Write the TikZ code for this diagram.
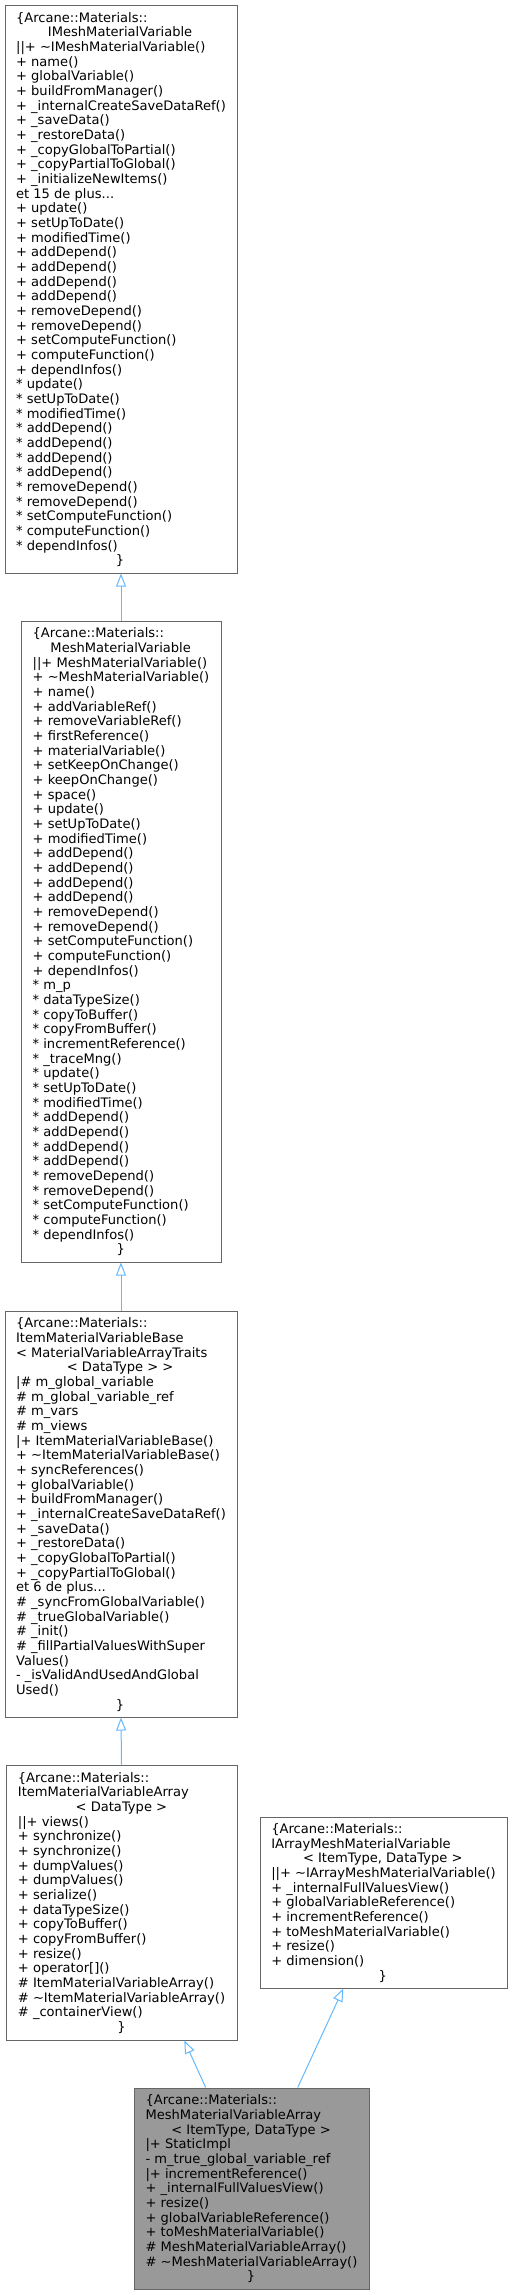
\documentclass[tikz,border=0pt]{standalone}
\usepackage{fontspec}
\setmainfont{DejaVu Sans}
\usetikzlibrary{arrows.meta}
\definecolor{edgeblue}{HTML}{63B8FF}
\definecolor{boxborder}{HTML}{666666}
\definecolor{boxgray}{HTML}{999999}
\newcommand{\Sx}{\vrule width0pt height8.8pt depth2.2pt}
\newcommand{\Ll}[1]{\hbox{\Sx#1}}
\newcommand{\Cl}[1]{\hbox to\hsize{\hss\Sx#1\hss}}
\newcommand{\Blk}[2]{\vbox{\hsize=#1\baselineskip=11pt\lineskiplimit=-\maxdimen\lineskip=0pt #2}}
\newcommand{\tl}{\textasciitilde}
\tikzset{
  cls/.style={draw=boxborder, line width=0.75pt, fill=white, inner sep=0pt,
    font=\fontsize{9.8pt}{11pt}\selectfont, text=black},
  clsmain/.style={cls, fill=boxgray},
  inh/.style={draw=edgeblue, line width=0.75pt, -{Triangle[open, length=9.75pt, width=7.5pt]}}
}
\begin{document}
\begin{tikzpicture}[x=0.75pt, y=-0.75pt]
\useasboundingbox (0,0) rectangle (513,2295);

\node[cls, minimum width=174pt, minimum height=426pt] (b1) at (121,289) {\Blk{156pt}{%
\Ll{\{Arcane::Materials::}
\Cl{IMeshMaterialVariable}
\Ll{||+ \tl IMeshMaterialVariable()}
\Ll{+ name()}
\Ll{+ globalVariable()}
\Ll{+ buildFromManager()}
\Ll{+ \_internalCreateSaveDataRef()}
\Ll{+ \_saveData()}
\Ll{+ \_restoreData()}
\Ll{+ \_copyGlobalToPartial()}
\Ll{+ \_copyPartialToGlobal()}
\Ll{+ \_initializeNewItems()}
\Ll{et 15 de plus...}
\Ll{+ update()}
\Ll{+ setUpToDate()}
\Ll{+ modifiedTime()}
\Ll{+ addDepend()}
\Ll{+ addDepend()}
\Ll{+ addDepend()}
\Ll{+ addDepend()}
\Ll{+ removeDepend()}
\Ll{+ removeDepend()}
\Ll{+ setComputeFunction()}
\Ll{+ computeFunction()}
\Ll{+ dependInfos()}
\Ll{* update()}
\Ll{* setUpToDate()}
\Ll{* modifiedTime()}
\Ll{* addDepend()}
\Ll{* addDepend()}
\Ll{* addDepend()}
\Ll{* addDepend()}
\Ll{* removeDepend()}
\Ll{* removeDepend()}
\Ll{* setComputeFunction()}
\Ll{* computeFunction()}
\Ll{* dependInfos()}
\Cl{\}}}};

\node[cls, minimum width=150pt, minimum height=480.75pt] (b2) at (121,941.5) {\Blk{132pt}{%
\Ll{\{Arcane::Materials::}
\Cl{MeshMaterialVariable}
\Ll{||+ MeshMaterialVariable()}
\Ll{+ \tl MeshMaterialVariable()}
\Ll{+ name()}
\Ll{+ addVariableRef()}
\Ll{+ removeVariableRef()}
\Ll{+ firstReference()}
\Ll{+ materialVariable()}
\Ll{+ setKeepOnChange()}
\Ll{+ keepOnChange()}
\Ll{+ space()}
\Ll{+ update()}
\Ll{+ setUpToDate()}
\Ll{+ modifiedTime()}
\Ll{+ addDepend()}
\Ll{+ addDepend()}
\Ll{+ addDepend()}
\Ll{+ addDepend()}
\Ll{+ removeDepend()}
\Ll{+ removeDepend()}
\Ll{+ setComputeFunction()}
\Ll{+ computeFunction()}
\Ll{+ dependInfos()}
\Ll{* m\_p}
\Ll{* dataTypeSize()}
\Ll{* copyToBuffer()}
\Ll{* copyFromBuffer()}
\Ll{* incrementReference()}
\Ll{* \_traceMng()}
\Ll{* update()}
\Ll{* setUpToDate()}
\Ll{* modifiedTime()}
\Ll{* addDepend()}
\Ll{* addDepend()}
\Ll{* addDepend()}
\Ll{* addDepend()}
\Ll{* removeDepend()}
\Ll{* removeDepend()}
\Ll{* setComputeFunction()}
\Ll{* computeFunction()}
\Ll{* dependInfos()}
\Cl{\}}}};

\node[cls, minimum width=174pt, minimum height=304.5pt] (b3) at (121,1514) {\Blk{156pt}{%
\Ll{\{Arcane::Materials::}
\Ll{ItemMaterialVariableBase}
\Ll{< MaterialVariableArrayTraits}
\Cl{< DataType > >}
\Ll{|\# m\_global\_variable}
\Ll{\# m\_global\_variable\_ref}
\Ll{\# m\_vars}
\Ll{\# m\_views}
\Ll{|+ ItemMaterialVariableBase()}
\Ll{+ \tl ItemMaterialVariableBase()}
\Ll{+ syncReferences()}
\Ll{+ globalVariable()}
\Ll{+ buildFromManager()}
\Ll{+ \_internalCreateSaveDataRef()}
\Ll{+ \_saveData()}
\Ll{+ \_restoreData()}
\Ll{+ \_copyGlobalToPartial()}
\Ll{+ \_copyPartialToGlobal()}
\Ll{et 6 de plus...}
\Ll{\# \_syncFromGlobalVariable()}
\Ll{\# \_trueGlobalVariable()}
\Ll{\# \_init()}
\Ll{\# \_fillPartialValuesWithSuper}
\Ll{Values()}
\Ll{- \_isValidAndUsedAndGlobal}
\Ll{Used()}
\Cl{\}}}};

\node[cls, minimum width=173.25pt, minimum height=206.25pt] (b4) at (121.5,1902.5) {\Blk{155.25pt}{%
\Ll{\{Arcane::Materials::}
\Ll{ItemMaterialVariableArray}
\Cl{< DataType >}
\Ll{||+ views()}
\Ll{+ synchronize()}
\Ll{+ synchronize()}
\Ll{+ dumpValues()}
\Ll{+ dumpValues()}
\Ll{+ serialize()}
\Ll{+ dataTypeSize()}
\Ll{+ copyToBuffer()}
\Ll{+ copyFromBuffer()}
\Ll{+ resize()}
\Ll{+ operator[]()}
\Ll{\# ItemMaterialVariableArray()}
\Ll{\# \tl ItemMaterialVariableArray()}
\Ll{\# \_containerView()}
\Cl{\}}}};

\node[cls, minimum width=185.25pt, minimum height=128.25pt] (b5) at (383.5,1902.5) {\Blk{167.25pt}{%
\Ll{\{Arcane::Materials::}
\Ll{IArrayMeshMaterialVariable}
\Cl{< ItemType, DataType >}
\Ll{||+ \tl IArrayMeshMaterialVariable()}
\Ll{+ \_internalFullValuesView()}
\Ll{+ globalVariableReference()}
\Ll{+ incrementReference()}
\Ll{+ toMeshMaterialVariable()}
\Ll{+ resize()}
\Ll{+ dimension()}
\Cl{\}}}};

\node[clsmain, minimum width=176.25pt, minimum height=150.75pt] (b6) at (251.5,2188.5) {\Blk{158.25pt}{%
\Ll{\{Arcane::Materials::}
\Ll{MeshMaterialVariableArray}
\Cl{< ItemType, DataType >}
\Ll{|+ StaticImpl}
\Ll{- m\_true\_global\_variable\_ref}
\Ll{|+ incrementReference()}
\Ll{+ \_internalFullValuesView()}
\Ll{+ resize()}
\Ll{+ globalVariableReference()}
\Ll{+ toMeshMaterialVariable()}
\Ll{\# MeshMaterialVariableArray()}
\Ll{\# \tl MeshMaterialVariableArray()}
\Cl{\}}}};

\draw[inh] (b2.north) -- (b1.south);
\draw[inh] (b3.north) -- (b2.south);
\draw[inh] (b4.north) -- (b3.south);
\draw[inh] ([xshift=-34.35pt]b6.north) -- ([xshift=47.1pt]b4.south);
\draw[inh] ([xshift=34.65pt]b6.north) -- ([xshift=-30.15pt]b5.south);
\end{tikzpicture}
\end{document}
